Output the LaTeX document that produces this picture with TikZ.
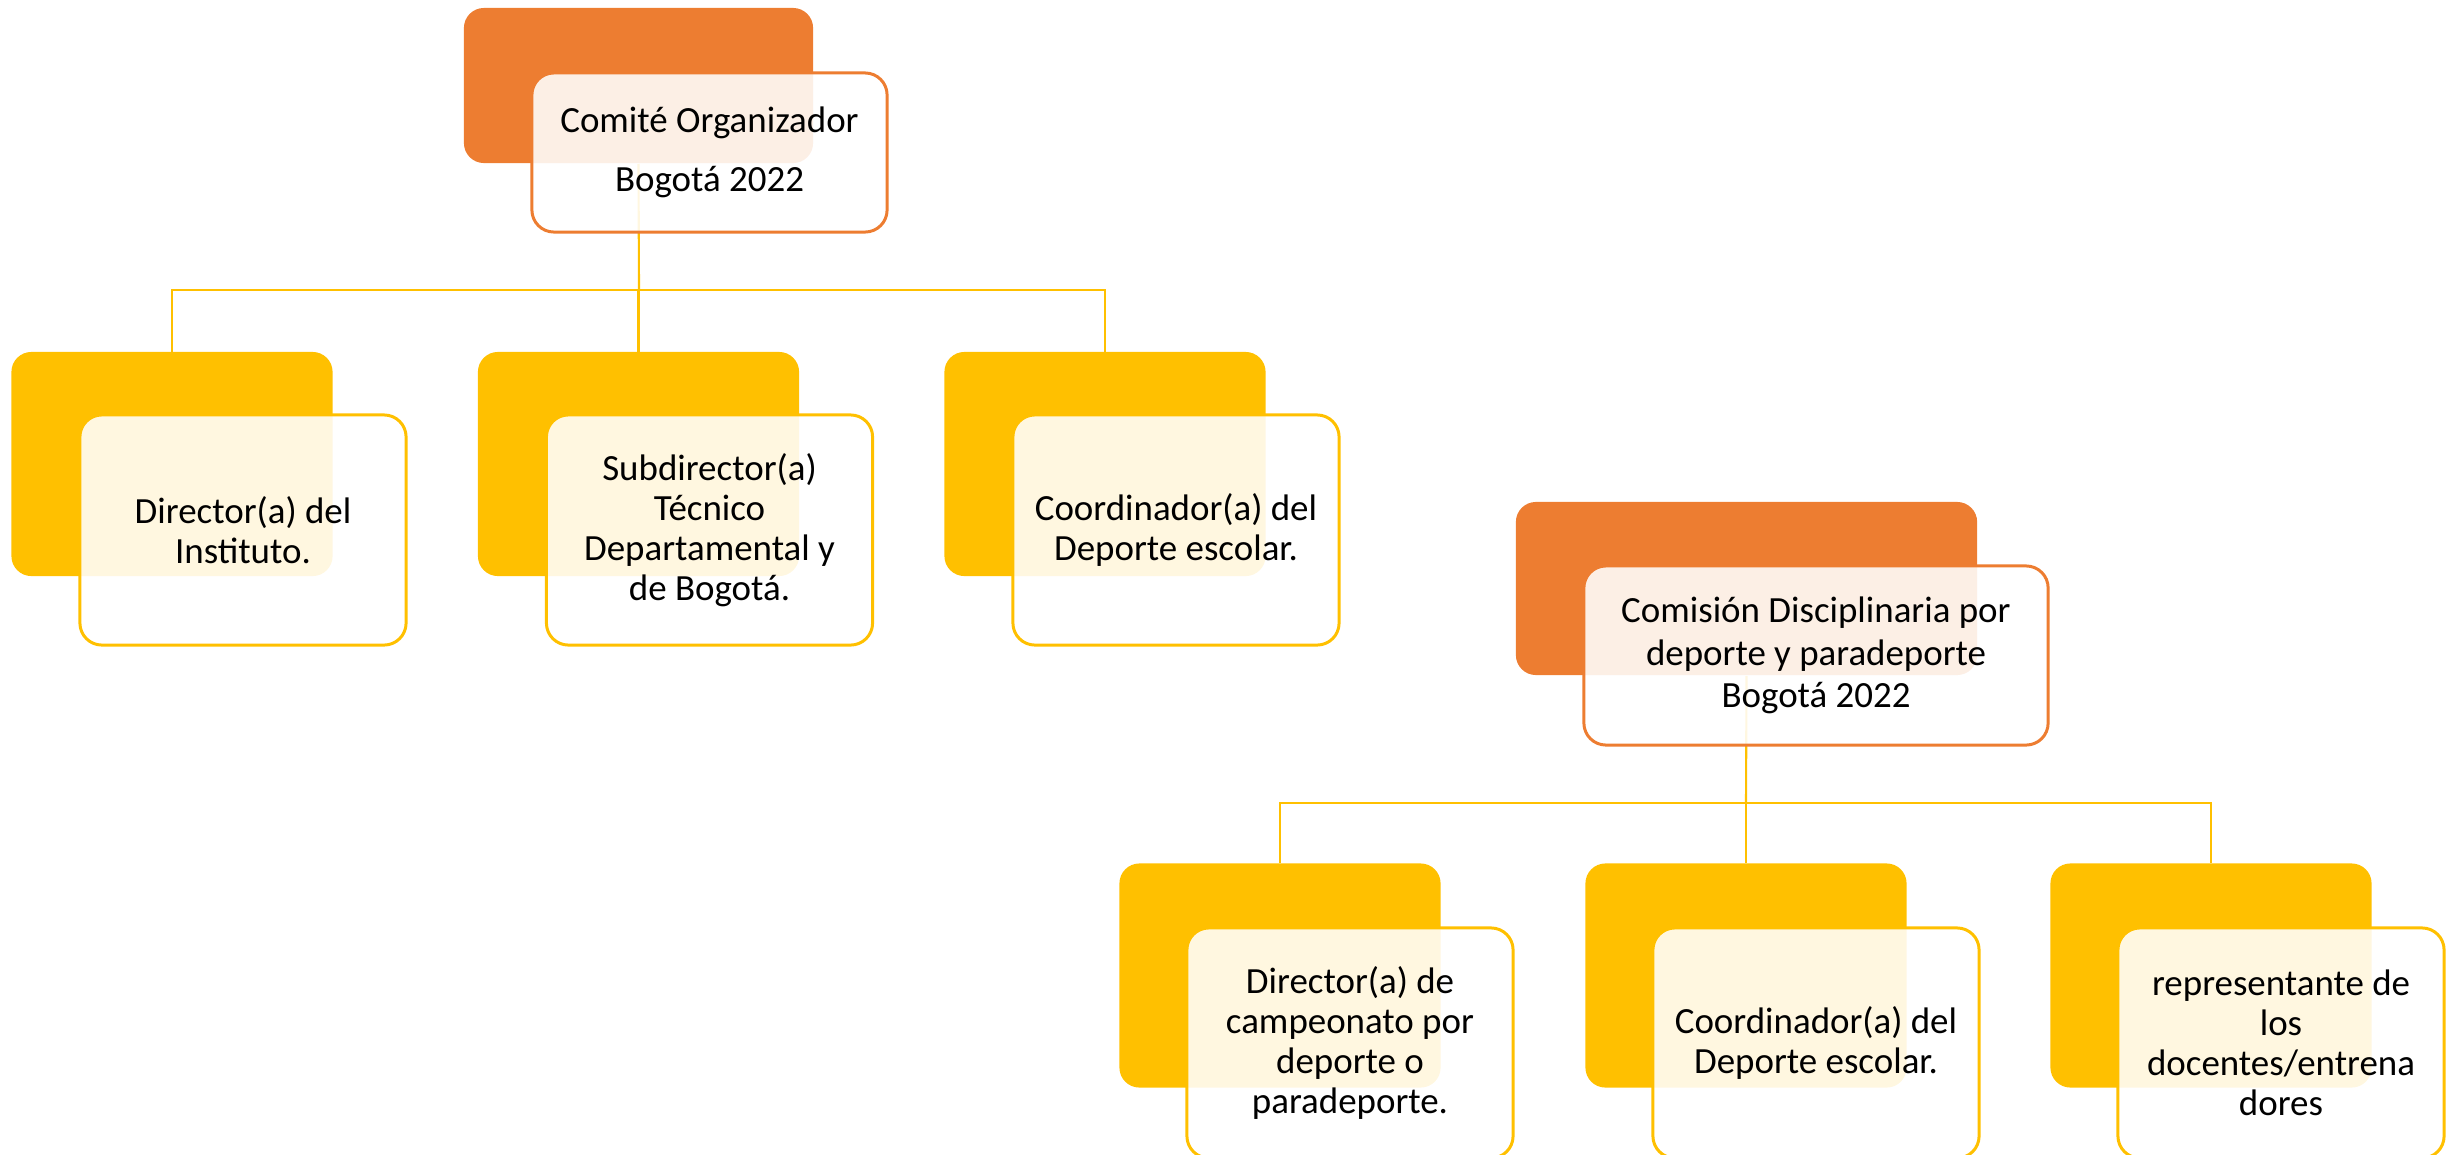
\documentclass[tikz,border=0pt]{standalone}
\usepackage{fontspec}
\setmainfont{Carlito}
\usepackage{xcolor}
\usepackage{tikz}

\definecolor{accorange}{HTML}{ED7D31}
\definecolor{accgold}{HTML}{FFC000}

\begin{document}
\begin{tikzpicture}[x=0.01cm, y=-0.01cm,
    back/.style={rounded corners=0.2cm, inner sep=0, minimum width=3.21cm, minimum height=2.24cm},
    front/.style={rounded corners=0.22cm, draw=accgold, line width=0.85pt, fill=white,
        fill opacity=0.88, text opacity=1, align=center, inner sep=0,
        minimum width=3.26cm, minimum height=2.3cm, font=\fontsize{10.5}{11.4}\selectfont},
    link/.style={draw=accgold, line width=0.6pt}]
    \useasboundingbox (0,0) rectangle (2454,1154);
    \clip (0,0) rectangle (2454,1154);

    % Head boxes (orange)
    \node[back, fill=accorange, minimum width=3.49cm, minimum height=1.55cm] (comite) at (638.5,85.5) {};
    \node[back, fill=accorange, minimum width=4.61cm, minimum height=1.73cm] (comision) at (1746.5,588.5) {};

    % Bars of the two trees
    \coordinate (bar1) at (639,290);
    \coordinate (bar2) at (1746,803);
    \draw[link] (comite.south) -- (bar1);
    \draw[link] (comision.south) -- (bar2);

    % First tree
    \foreach \cx/\name/\txt in {172/a1/{Director(a) del\\Instituto.},
                                638.5/a2/{Subdirector(a)\\Técnico\\Departamental y\\de Bogotá.},
                                1105/a3/{Coordinador(a) del\\Deporte escolar.}} {
        \draw[link] (bar1) -| (\cx,352);
        \node[back, fill=accgold] (\name) at (\cx,464) {};
        \node[front] (\name txt) at (\cx+71,530) {\txt};
    }

    % Second tree
    \foreach \cx/\name/\txt in {1280/b1/{Director(a) de\\campeonato por\\deporte o\\paradeporte.},
                                1746/b2/{Coordinador(a) del\\Deporte escolar.},
                                2211/b3/{representante de\\los\\docentes/entrena\\dores}} {
        \draw[link] (bar2) -| (\cx,863);
        \node[back, fill=accgold] (\name) at (\cx,975.5) {};
        \node[front] (\name txt) at (\cx+70,1043) {\txt};
    }

    % Head texts
    \node[front, draw=accorange, minimum width=3.55cm, minimum height=1.59cm,
          font=\fontsize{10.5}{16.8}\selectfont] (comitetxt) at (709.5,152.5) {Comité Organizador\\Bogotá 2022};
    \node[front, draw=accorange, minimum width=4.64cm, minimum height=1.79cm,
          font=\fontsize{10.5}{12}\selectfont] (comisiontxt) at (1816,655.5) {Comisión Disciplinaria por\\deporte y paradeporte\\Bogotá 2022};
\end{tikzpicture}
\end{document}
